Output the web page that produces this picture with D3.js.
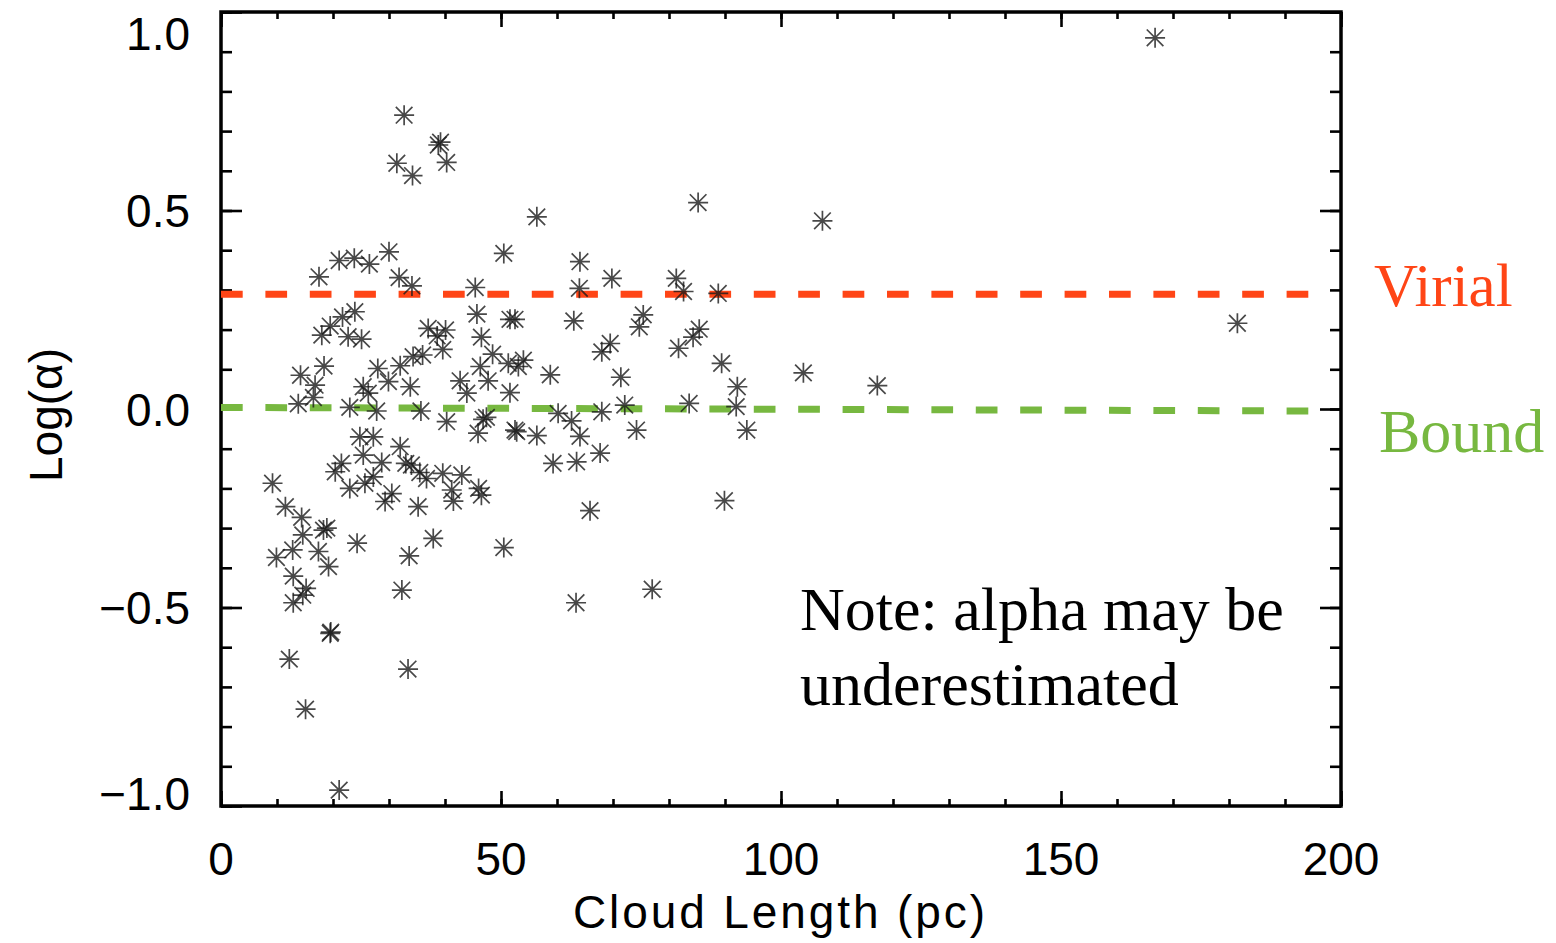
<!DOCTYPE html>
<meta charset="utf-8">
<style>
    html, body { margin: 0; background: #fff; }
    .tick-label { font-family: 'Liberation Sans', Arial, sans-serif; font-size: 46px; fill: #000; }
    .axis-title { font-family: 'Liberation Sans', Arial, sans-serif; font-size: 46px; fill: #000; }
    .note { font-family: 'Liberation Serif', 'Times New Roman', serif; font-size: 62px; }
</style>
<svg width="1556" height="943"></svg>
<script src="https://d3js.org/d3.v7.min.js"></script>
<script>
    // cloud length (pc) and log(alpha)
    var lengthPc = [
        166.8, 32.7, 38.8, 39.2, 31.4, 34.2, 40.3, 56.4, 85.2, 107.4,
        181.5, 30.0, 50.5, 64.1, 17.5, 21.1, 23.8, 26.5, 31.8, 34.1,
        45.4, 64.0, 69.8, 81.3, 82.6, 88.8, 23.9, 21.7, 19.5, 18.0,
        22.7, 25.1, 37.0, 38.6, 40.1, 39.6, 45.7, 51.6, 52.5, 63.0,
        46.5, 75.4, 74.7, 69.5, 68.0, 81.7, 84.3, 85.4, 89.4, 104.0,
        117.2, 92.2, 92.0, 83.6, 93.9, 71.4, 58.8, 14.2, 18.4, 16.8,
        16.5, 13.8, 28.0, 32.0, 34.3, 36.0, 25.4, 26.3, 29.9, 33.8,
        42.7, 43.9, 46.3, 47.7, 48.5, 51.3, 53.1, 54.0, 51.6, 23.0,
        27.8, 35.7, 40.3, 46.8, 47.4, 45.9, 52.8, 52.5, 56.4, 60.2,
        62.6, 64.1, 67.7, 68.0, 72.1, 74.2, 59.3, 63.5, 65.9, 89.9,
        63.4, 77.0, 9.2, 11.5, 14.4, 14.6, 18.3, 18.9, 9.9, 12.8,
        17.4, 19.2, 12.9, 15.2, 14.6, 12.9, 24.3, 33.6, 37.9, 32.3,
        50.5, 19.5, 19.6, 12.2, 33.4, 15.1, 21.1, 24.8, 27.2, 25.4,
        21.5, 20.4, 28.7, 32.0, 33.0, 34.0, 35.5, 36.7, 39.6, 43.0,
        27.2, 23.0, 25.7, 30.5, 29.3, 35.2, 41.2, 41.5, 46.0, 46.5
    ];
    var logAlpha = [
        0.935, 0.740, 0.665, 0.672, 0.619, 0.588, 0.621, 0.484, 0.520, 0.474,
        0.216, 0.396, 0.392, 0.371, 0.333, 0.374, 0.380, 0.365, 0.331, 0.310,
        0.306, 0.304, 0.329, 0.329, 0.296, 0.291, 0.245, 0.232, 0.209, 0.186,
        0.182, 0.176, 0.203, 0.184, 0.199, 0.150, 0.239, 0.226, 0.226, 0.222,
        0.181, 0.237, 0.207, 0.165, 0.144, 0.153, 0.181, 0.201, 0.115, 0.091,
        0.059, 0.056, 0.006, 0.014, -0.053, 0.080, 0.086, 0.085, 0.108, 0.060,
        0.029, 0.013, 0.102, 0.109, 0.132, 0.136, 0.056, 0.040, 0.069, 0.056,
        0.071, 0.040, 0.107, 0.071, 0.138, 0.115, 0.107, 0.123, 0.041, 0.004,
        -0.005, -0.005, -0.032, -0.026, -0.021, -0.061, -0.057, -0.053, -0.067, -0.011,
        -0.030, -0.069, -0.111, -0.007, 0.010, -0.053, -0.137, -0.133, -0.256, -0.231,
        -0.488, -0.454, -0.187, -0.246, -0.273, -0.317, -0.305, -0.300, -0.374, -0.355,
        -0.359, -0.397, -0.421, -0.452, -0.469, -0.488, -0.338, -0.370, -0.326, -0.456,
        -0.349, -0.565, -0.562, -0.630, -0.655, -0.756, -0.960, -0.070, -0.070, -0.116,
        -0.137, -0.158, -0.135, -0.095, -0.137, -0.141, -0.160, -0.175, -0.162, -0.166,
        -0.171, -0.200, -0.187, -0.213, -0.233, -0.246, -0.204, -0.232, -0.200, -0.217
    ];

    var xMajor = [0, 50, 100, 150, 200];
    var xMinor = d3.range(0, 201, 10);
    var yMajor = [-1, -0.5, 0, 0.5, 1];
    var yMinor = d3.range(-10, 11).map(function (d) { return d / 10; });
    var xTickLabels = ["0", "50", "100", "150", "200"];
    var yTickLabels = ["\u22121.0", "\u22120.5", "0.0", "0.5", "1.0"];

    // reference lines (virial / bound)
    var virialLine = [[0, 0.289], [195, 0.289]];
    var boundLine = [[0, 0.004], [195, -0.005]];

    var svg = d3.select("svg");
    var plotL = 221, plotR = 1341, plotT = 12, plotB = 806;

    var x = d3.scaleLinear().domain([0, 200]).range([plotL, plotR]);
    var y = d3.scaleLinear().domain([-1, 1]).range([plotB, plotT]);

    // ticks, all pointing inwards
    function ticks(axisFn, scale, vals, size, tr) {
        svg.append("g")
            .attr("transform", tr)
            .call(axisFn(scale).tickValues(vals).tickSize(size).tickFormat(""))
            .call(function (g) {
                g.select(".domain").remove();
                g.selectAll("line").attr("stroke", "#000").attr("stroke-width", 2.6);
            });
    }
    ticks(d3.axisBottom, x, xMinor, -7, "translate(0," + plotB + ")");
    ticks(d3.axisBottom, x, xMajor, -15, "translate(0," + plotB + ")");
    ticks(d3.axisTop, x, xMinor, -7, "translate(0," + plotT + ")");
    ticks(d3.axisTop, x, xMajor, -15, "translate(0," + plotT + ")");
    ticks(d3.axisLeft, y, yMinor, -11, "translate(" + plotL + ",0)");
    ticks(d3.axisLeft, y, yMajor, -21, "translate(" + plotL + ",0)");
    ticks(d3.axisRight, y, yMinor, -11, "translate(" + plotR + ",0)");
    ticks(d3.axisRight, y, yMajor, -21, "translate(" + plotR + ",0)");

    svg.append("rect")
        .attr("x", plotL).attr("y", plotT)
        .attr("width", plotR - plotL).attr("height", plotB - plotT)
        .attr("fill", "none")
        .attr("stroke", "#000")
        .attr("stroke-width", 3.5);

    // tick labels
    svg.selectAll(".xl").data(xMajor).enter().append("text")
        .attr("class", "tick-label")
        .attr("x", function (d) { return x(d); })
        .attr("y", 875)
        .attr("text-anchor", "middle")
        .text(function (d, i) { return xTickLabels[i]; });

    svg.selectAll(".yl").data(yMajor).enter().append("text")
        .attr("class", "tick-label")
        .attr("x", 190)
        .attr("y", function (d) { return Math.min(Math.max(y(d), 33), 793); })
        .attr("dy", "0.36em")
        .attr("text-anchor", "end")
        .text(function (d, i) { return yTickLabels[i]; });

    svg.append("text")
        .attr("class", "axis-title")
        .attr("x", 779).attr("y", 928)
        .attr("text-anchor", "middle")
        .attr("textLength", 412)
        .attr("lengthAdjust", "spacing")
        .text("Cloud Length (pc)");

    svg.append("text")
        .attr("class", "axis-title")
        .attr("transform", "translate(62,415) rotate(-90)")
        .attr("text-anchor", "middle")
        .text("Log(\u03b1)");

    // dashed reference lines
    var line = d3.line()
        .x(function (d) { return x(d[0]); })
        .y(function (d) { return y(d[1]); });

    svg.append("path")
        .datum(virialLine)
        .attr("d", line)
        .attr("fill", "none")
        .attr("stroke", "#ff4516")
        .attr("stroke-width", 7)
        .attr("stroke-dasharray", "21.7,22.7");

    svg.append("path")
        .datum(boundLine)
        .attr("d", line)
        .attr("fill", "none")
        .attr("stroke", "#77b840")
        .attr("stroke-width", 7)
        .attr("stroke-dasharray", "21.7,22.7");

    // asterisk markers
    var star = "M0,-10V10M-10,0H10M-8.3,-8.3L8.3,8.3M-8.3,8.3L8.3,-8.3";
    svg.append("g")
        .selectAll("path")
        .data(d3.range(lengthPc.length))
        .enter().append("path")
        .attr("d", star)
        .attr("transform", function (i) { return "translate(" + x(lengthPc[i]) + "," + y(logAlpha[i]) + ")"; })
        .attr("fill", "none")
        .attr("stroke", "#1a1a1a")
        .attr("stroke-width", 1.7)
        .attr("stroke-opacity", 0.8);

    // labels
    svg.append("text")
        .attr("class", "note")
        .attr("x", 1374).attr("y", 306)
        .style("font-size", "61px")
        .style("fill", "#ff4516")
        .text("Virial");

    svg.append("text")
        .attr("class", "note")
        .attr("x", 1379).attr("y", 452)
        .style("fill", "#77b840")
        .text("Bound");

    svg.append("text")
        .attr("class", "note")
        .attr("x", 800).attr("y", 630)
        .style("fill", "#000")
        .text("Note: alpha may be");

    svg.append("text")
        .attr("class", "note")
        .attr("x", 800).attr("y", 705)
        .style("fill", "#000")
        .text("underestimated");
</script>
